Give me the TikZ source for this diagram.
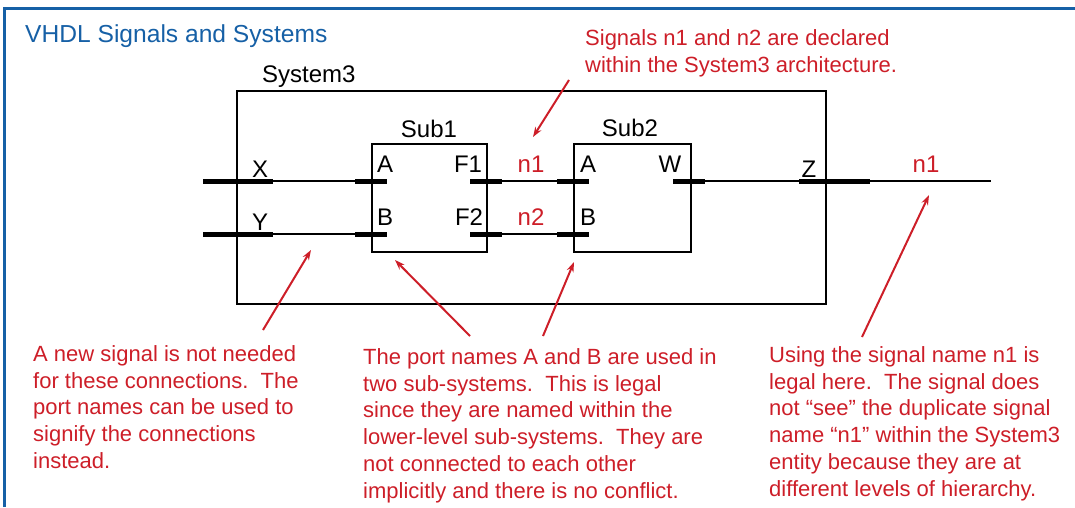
\documentclass[tikz,border=0pt]{standalone}
\usepackage{fontspec}
\setmainfont{Liberation Sans}
\usetikzlibrary{arrows.meta}
\definecolor{ttlblue}{RGB}{22,96,166}
\definecolor{annred}{RGB}{205,30,40}
\begin{document}
\begin{tikzpicture}[x=1pt,y=-1pt,
  box/.style={draw=black,line width=2.5pt,inner sep=0pt,outer sep=0pt},
  wire/.style={line width=2pt},
  stub/.style={line width=5pt},
  lbl/.style={font=\fontsize{24}{26}\selectfont,inner sep=0pt,anchor=base},
  sig/.style={lbl,text=annred},
  note/.style={font=\fontsize{22}{26.9}\selectfont,text=annred,align=left,inner sep=0pt,anchor=north west},
  callout/.style={draw=annred,line width=2pt,-{Stealth[length=10pt,width=7pt]}}]
\useasboundingbox (0,0) rectangle (1075,507);
% frame
\draw[ttlblue,line width=3pt] (4,507) -- (4,8) -- (1075,8);
\node[anchor=base west,inner sep=0pt,text=ttlblue,font=\fontsize{24.6}{26}\selectfont] (title) at (25,42) {VHDL Signals and Systems};
% boxes
\node[box,minimum width=589pt,minimum height=213pt] (sys) at (531.5,197.5) {};
\node[box,minimum width=115pt,minimum height=108pt] (sub1) at (429.5,198) {};
\node[box,minimum width=117pt,minimum height=108pt] (sub2) at (632.5,198) {};
\node[lbl,anchor=base west] (sysl) at (262,82) {System3};
\node[lbl] (sub1l) at (429,137) {Sub1};
\node[lbl] (sub2l) at (630,136) {Sub2};
% coordinates row 1
\coordinate (x0) at (203,181); \coordinate (x1) at (273,181);
\coordinate (a1l) at (355,181); \coordinate (a1r) at (387,181);
\coordinate (f1l) at (470,181); \coordinate (f1r) at (502,181);
\coordinate (a2l) at (557,181); \coordinate (a2r) at (589,181);
\coordinate (wl) at (673,181); \coordinate (wr) at (705,181);
\coordinate (zl) at (799,181); \coordinate (zr) at (870,181);
\coordinate (out) at (991,181);
% row 2
\coordinate (y0) at (203,234); \coordinate (y1) at (273,234);
\coordinate (b1l) at (355,234); \coordinate (b1r) at (387,234);
\coordinate (f2l) at (470,234); \coordinate (f2r) at (502,234);
\coordinate (b2l) at (557,234); \coordinate (b2r) at (589,234);
% wires
\draw[wire] (x0) -- (a1r);
\draw[wire] (f1l) -- (a2r);
\draw[wire] (wl) -- (out);
\draw[wire] (y0) -- (b1r);
\draw[wire] (f2l) -- (b2r);
% stubs
\foreach \p/\q in {x0/x1,a1l/a1r,f1l/f1r,a2l/a2r,wl/wr,zl/zr,y0/y1,b1l/b1r,f2l/f2r,b2l/b2r}
  \draw[stub] (\p) -- (\q);
% port labels
\node[lbl] (lx) at (260,177) {X};
\node[lbl] (ly) at (260,230) {Y};
\node[lbl] (la1) at (385,172) {A};
\node[lbl] (lb1) at (385,225) {B};
\node[lbl] (lf1) at (468,172) {F1};
\node[lbl] (lf2) at (469,225) {F2};
\node[lbl] (la2) at (588,172) {A};
\node[lbl] (lb2) at (588,225) {B};
\node[lbl] (lw) at (670,172) {W};
\node[lbl] (lz) at (809,177) {Z};
\node[sig] (n1a) at (531,172) {n1};
\node[sig] (n2a) at (531,225) {n2};
\node[sig] (n1b) at (926,172) {n1};
% notes
\node[note] (ntop) at (585,29) {Signals n1 and n2 are declared\\within the System3 architecture.};
\node[note] (nleft) at (33,345) {A new signal is not needed\\for these connections.\ \ The\\port names can be used to\\signify the connections\\instead.};
\node[note] (nmid) at (363,348) {The port names A and B are used in\\two sub-systems.\ \ This is legal\\since they are named within the\\lower-level sub-systems.\ \ They are\\not connected to each other\\implicitly and there is no conflict.};
\node[note] (nright) at (769,346) {Using the signal name n1 is\\legal here.\ \ The signal does\\not “see” the duplicate signal\\name “n1” within the System3\\entity because they are at\\different levels of hierarchy.};
% callouts
\coordinate (t1) at (569,80); \coordinate (h1) at (533,137);
\coordinate (t2) at (263,330); \coordinate (h2) at (311,250);
\coordinate (t3) at (470,336); \coordinate (h3) at (395,260);
\coordinate (t4) at (543,336); \coordinate (h4) at (574,262);
\coordinate (t5) at (862,337); \coordinate (h5) at (929,195);
\draw[callout] (t1) -- (h1);
\draw[callout] (t2) -- (h2);
\draw[callout] (t3) -- (h3);
\draw[callout] (t4) -- (h4);
\draw[callout] (t5) -- (h5);
\end{tikzpicture}
\end{document}
